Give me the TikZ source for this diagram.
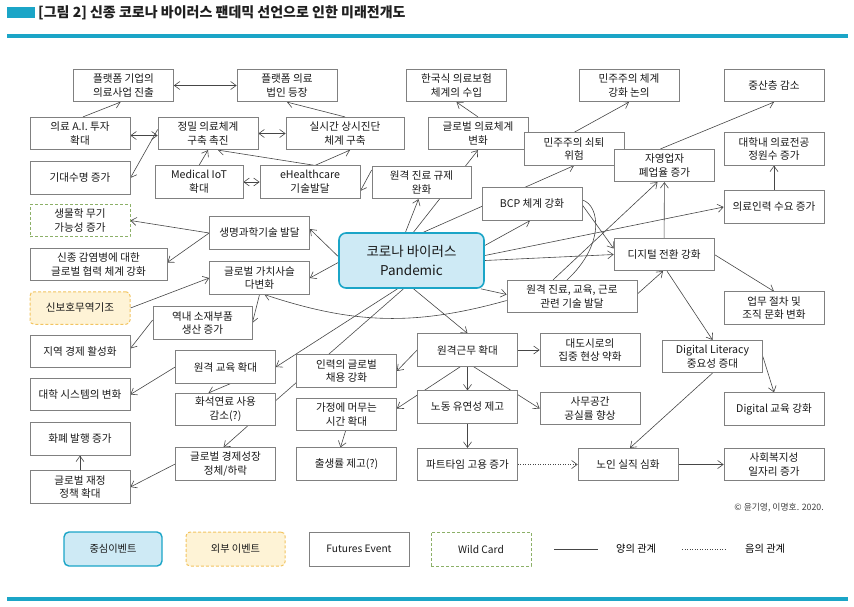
\documentclass[tikz,border=0pt]{standalone}
\usepackage{fontspec}
\setmainfont{Noto Sans CJK KR}
\usetikzlibrary{arrows.meta,backgrounds}
\definecolor{teal1}{RGB}{27,165,199}
\definecolor{tealfill}{RGB}{206,234,245}
\definecolor{boxgray}{RGB}{128,128,128}
\definecolor{linegray}{RGB}{70,70,70}
\definecolor{extline}{RGB}{242,196,96}
\definecolor{extfill}{RGB}{254,243,214}
\definecolor{wildline}{RGB}{140,176,104}
\tikzset{>={Straight Barb[length=5.5pt,width=8pt]}}

\begin{document}
\begin{tikzpicture}[x=1pt,y=-1pt,
    fut/.style={draw=boxgray, line width=0.7pt, fill=white, minimum width=100pt, minimum height=32.5pt, inner sep=1pt, align=center, text=black!90, font=\fontsize{10.6}{13.8}\selectfont},
    core/.style={fut, draw=teal1, fill=tealfill, line width=1.6pt, rounded corners=7pt},
    ext/.style={fut, draw=extline, fill=extfill, line width=1pt, dash pattern=on 3pt off 2pt, rounded corners=4pt},
    wild/.style={fut, draw=wildline, line width=0.9pt, dash pattern=on 3pt off 2pt},
    arr/.style={->, draw=linegray, line width=0.6pt},
    dbl/.style={<->, draw=linegray, line width=0.6pt},
    neg/.style={->, draw=linegray, line width=0.6pt, dash pattern=on 1pt off 1.5pt}
  ]
    \useasboundingbox (0,0) rectangle (854,606);

    % title
    \fill[teal1] (7,7) rectangle (35,18);
    \node[anchor=west, inner sep=0pt, text=black!88, font=\fontsize{14}{16}\selectfont\bfseries] (title) at (38,12.5) {[그림 2] 신종 코로나 바이러스 팬데믹 선언으로 인한 미래전개도};
    \draw[teal1, line width=3.5pt] (7,36) -- (848,36);
    \draw[teal1, line width=4pt] (7,598.5) -- (848,598.5);

    % events
    \node[fut] (platform)  at (123.5,85.5) {플랫폼 기업의\\의료사업 진출};
    \node[fut] (platlaw)   at (287,85.5)   {플랫폼 의료\\법인 등장};
    \node[fut] (korins)    at (456.5,85.5) {한국식 의료보험\\체계의 수입};
    \node[fut] (demodisc)  at (629,85.5)   {민주주의 체계\\강화 논의};
    \node[fut] (midclass)  at (774,85.5)   {중산층 감소};
    \node[fut] (medai)     at (80,133.5)   {의료 A.I. 투자\\확대};
    \node[fut] (precise)   at (208,133.5)  {정밀 의료체계\\구축 촉진};
    \node[fut, minimum width=118pt] (realtime) at (345,133.5) {실시간 상시진단\\체계 구축};
    \node[fut] (globmed)   at (478,133.5)  {글로벌 의료체계\\변화};
    \node[fut] (demodecl)  at (574,149)    {민주주의 쇠퇴\\위험};
    \node[fut] (unimed)    at (774,149)    {대학내 의료전공\\정원수 증가};
    \node[fut] (selfemp)   at (664.5,165.5) {자영업자\\폐업율 증가};
    \node[fut] (lifespan)  at (80,178)     {기대수명 증가};
    \node[fut, minimum width=88pt] (iot) at (199,182) {Medical IoT\\확대};
    \node[fut] (ehealth)   at (310,182)    {eHealthcare\\기술발달};
    \node[fut, minimum width=99pt] (teledereg) at (421.5,182.5) {원격 진료 규제\\완화};
    \node[fut] (bcp)       at (532,204)    {BCP 체계 강화};
    \node[fut] (medstaff)  at (774,207)    {의료인력 수요 증가};
    \node[wild] (bioweap)  at (80,220.5)   {생물학 무기\\가능성 증가};
    \node[fut] (lifesci)   at (259.5,233)  {생명과학기술 발달};
    \node[fut, minimum width=137pt] (cooper) at (98.5,264.5) {신종 감염병에 대한\\글로벌 협력 체계 강화};
    \node[fut] (gvc)       at (259.5,278)  {글로벌 가치사슬\\다변화};
    \node[core, minimum width=145pt, minimum height=55pt, font=\fontsize{13.5}{18.5}\selectfont] (covid) at (411.5,260.5) {코로나 바이러스\\Pandemic};
    \node[fut] (digital)   at (664,254.5)  {디지털 전환 강화};
    \node[fut, minimum width=130pt] (remtech) at (572,296.5) {원격 진료, 교육, 근로\\관련 기술 발달};
    \node[ext] (protect)   at (80,308)     {신보호무역기조};
    \node[fut] (workcult)  at (774,308)    {업무 절차 및\\조직 문화 변화};
    \node[fut, minimum width=99pt] (regional) at (202.5,323) {역내 소재부품\\생산 증가};
    \node[fut] (remwork)   at (467.5,350)  {원격근무 확대};
    \node[fut] (metro)     at (590,350)    {대도시로의\\집중 현상 약화};
    \node[fut] (localeco)  at (80,351.5)   {지역 경제 활성화};
    \node[fut] (diglit)    at (712.5,356.5) {Digital Literacy\\중요성 증대};
    \node[fut] (remedu)    at (225.5,367)  {원격 교육 확대};
    \node[fut] (globhire)  at (346.5,371)  {인력의 글로벌\\채용 강화};
    \node[fut] (univ)      at (80,394.5)   {대학 시스템의 변화};
    \node[fut] (flex)      at (467.5,407)  {노동 유연성 제고};
    \node[fut] (office)    at (590,408.5)  {사무공간\\공실률 향상};
    \node[fut] (digedu)    at (774,409)    {Digital 교육 강화};
    \node[fut] (fossil)    at (225.5,409.5) {화석연료 사용\\감소(?)};
    \node[fut] (home)      at (346.5,414.5) {가정에 머무는\\시간 확대};
    \node[fut] (money)     at (80,439)     {화폐 발행 증가};
    \node[fut] (growth)    at (225.5,464)  {글로벌 경제성장\\정체/하락};
    \node[fut] (birth)     at (346.5,464)  {출생률 제고(?)};
    \node[fut] (parttime)  at (467.5,464.5) {파트타임 고용 증가};
    \node[fut] (senior)    at (628,464.5)  {노인 실직 심화};
    \node[fut] (welfare)   at (774,464.5)  {사회복지성\\일자리 증가};
    \node[fut] (fiscal)    at (80,487)     {글로벌 재정\\정책 확대};

    \node[anchor=east, inner sep=0pt, text=black!75, font=\fontsize{8.8}{10}\selectfont] (credit) at (824,508) {© 윤기영, 이명호. 2020.};

    % relations
    \begin{scope}[on background layer]
      \draw[dbl] (platform) -- (platlaw);
      \draw[arr] ([xshift=3pt]medai.north) -- ([xshift=-3pt]platform.south);
      \draw[dbl] ([yshift=-2pt]medai.east) -- ([yshift=-2pt]precise.west);
      \draw[arr] ([yshift=4pt]precise.west) -- (lifespan.east);
      \draw[dbl] (precise) -- (realtime);
      \draw[arr] (realtime.north) -- (platlaw.south);
      \draw[arr] (iot.north) -- (precise.south);
      \draw[arr] ([xshift=5pt]ehealth.north) -- ([xshift=10pt]precise.south);
      \draw[arr] ([xshift=5pt]ehealth.north) -- ([xshift=5pt]realtime.south);
      \draw[dbl] (iot) -- (ehealth);
      \draw[arr] ([yshift=12.5pt]teledereg.west) -- ([yshift=-9pt]ehealth.east);
      \draw[arr] ([xshift=-6pt]covid.north) -- ([xshift=-3pt]teledereg.south);
      \draw[arr] ([xshift=2pt]covid.north) -- (globmed.south);
      \draw[arr] (globmed.north) -- (korins.south);
      \draw[arr] ([xshift=12pt]covid.north) -- (demodecl.south);
      \draw[arr] (demodecl.north) -- (demodisc.south);
      \draw[arr] ([yshift=15pt]covid.east) -- ([xshift=-2pt]bcp.south);
      \draw[arr] ([yshift=5pt]covid.east) -- (medstaff.west);
      \draw[arr] (covid.east) -- (digital.west);
      \draw[arr] ([xshift=-4pt]covid.south east) -- ([yshift=2pt]remtech.west);
      \draw[arr] ([yshift=-4pt]remtech.west) to[bend left=17] ([xshift=5pt]gvc.south);
      \draw[arr] ([yshift=4pt]covid.west) -- ([yshift=4pt]lifesci.east);
      \draw[arr] ([yshift=-2pt]covid.west) -- (gvc.east);
      \draw[arr] (lifesci.west) -- (bioweap.east);
      \draw[arr] (lifesci.west) -- ([yshift=2pt]cooper.east);
      \draw[arr] (protect.east) -- (gvc.west);
      \draw[arr] (gvc.south) -- (regional.east);
      \draw[arr] ([yshift=3pt]regional.west) -- ([yshift=3pt]localeco.east);
      \draw[arr] ([xshift=2pt]covid.south) -- (remwork.north);
      \draw[arr] ([xshift=-14pt]covid.south) -- (remedu.east);
      \draw[draw=linegray, line width=0.6pt] ([xshift=-8pt]covid.south) -- ([yshift=9pt]fossil.east);
      \draw[arr] ([xshift=5pt]remedu.south) -- ([xshift=-17pt]fossil.north);
      \draw[arr] (remedu.west) -- (univ.east);
      \draw[arr] ([xshift=22pt]fossil.south) -- ([xshift=-2pt]growth.north);
      \draw[arr] (growth.west) -- (fiscal.east);
      \draw[arr] (fiscal) -- (money);
      \draw[arr] (remwork) -- (metro);
      \draw[arr] (remwork) -- (flex);
      \draw[arr] ([xshift=6pt]remwork.south) -- (office.west);
      \draw[arr] ([xshift=-7pt]remwork.south) -- ([yshift=6pt]home.east);
      \draw[arr] (remwork.west) -- (globhire.east);
      \draw[arr] (flex) -- (parttime);
      \draw[arr] ([xshift=-1pt]home.south) -- ([xshift=-6pt]birth.north);
      \draw[neg] (parttime) -- (senior);
      \draw[arr] (senior) -- (welfare);
      \draw[arr] (diglit.south) -- ([xshift=2pt]senior.north);
      \draw[arr] (diglit.east) -- (digedu.north);
      \draw[arr] ([xshift=3pt]digital.south) -- (diglit.north);
      \draw[arr] ([yshift=2.5pt]remtech.east) -- ([xshift=-1pt]digital.south);
      \draw[arr] (digital.east) -- (workcult.north);
      \draw[arr] (digital) -- (selfemp);
      \draw[arr] ([xshift=-19pt]remtech.north) -- ([xshift=-7pt]selfemp.south);
      \draw[arr] ([yshift=-1pt]bcp.east) -- ([yshift=6pt]digital.west);
      \draw[draw=linegray, line width=0.6pt] ([yshift=4pt]bcp.east) .. controls (600,205) and (605,245) .. ([xshift=-5pt]remtech.north);
      \draw[arr] ([xshift=-4pt]selfemp.north) -- (midclass.south);
      \draw[arr] (medstaff) -- (unimed);
    \end{scope}

    % legend
    \node[core, minimum width=98pt, minimum height=34pt, line width=1.4pt, rounded corners=5pt, font=\fontsize{10.2}{12}\selectfont] (lgcore) at (113,549) {중심이벤트};
    \node[ext, minimum width=99pt, minimum height=34pt, font=\fontsize{10.2}{12}\selectfont] (lgext) at (235.5,549) {외부 이벤트};
    \node[fut, minimum height=34pt, font=\fontsize{10.2}{12}\selectfont] (lgfut) at (359,549) {Futures Event};
    \node[wild, minimum height=34pt, font=\fontsize{10.2}{12}\selectfont] (lgwild) at (481,549) {Wild Card};
    \coordinate (lgpos0) at (554,549);
    \node[anchor=west, inner sep=0pt, font=\fontsize{10.2}{12}\selectfont] (lgpos) at (616,549) {양의 관계};
    \draw[draw=linegray, line width=0.8pt] (lgpos0) -- ([xshift=-18pt]lgpos.west);
    \coordinate (lgneg0) at (682,549);
    \node[anchor=west, inner sep=0pt, font=\fontsize{10.2}{12}\selectfont] (lgneg) at (745,549) {음의 관계};
    \draw[draw=linegray, line width=0.7pt, dash pattern=on 1pt off 1.5pt] (lgneg0) -- ([xshift=-18pt]lgneg.west);
  \end{tikzpicture}
\end{document}
